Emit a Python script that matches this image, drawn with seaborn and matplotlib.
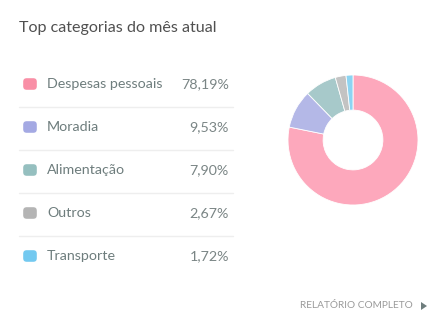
import matplotlib
matplotlib.use("Agg")
import matplotlib.pyplot as plt
from matplotlib.patches import FancyBboxPatch, Polygon
import seaborn as sns

title = "Top categorias do mês atual"
categories = ["Despesas pessoais", "Moradia", "Alimentação", "Outros", "Transporte"]
values = [78.19, 9.53, 7.90, 2.67, 1.72]
labels = ["78,19%", "9,53%", "7,90%", "2,67%", "1,72%"]
marker_colors = ["#F98FA6", "#A4A9E3", "#95BFBF", "#B4B4B4", "#73C9F0"]
slice_colors = ["#FDA8BC", "#B4B8E7", "#A7C9CA", "#C3C3C3", "#8CD4F2"]
footer = "RELATÓRIO COMPLETO"

sns.set_theme(style="white")
plt.rcParams["font.family"] = ["Lato", "DejaVu Sans"]

W, H = 448, 334
fig = plt.figure(figsize=(W / 100, H / 100), dpi=100)
fig.patch.set_facecolor("white")

# overlay axes in pixel coordinates
ov = fig.add_axes([0, 0, 1, 1])
ov.set_xlim(0, W)
ov.set_ylim(H, 0)
ov.axis("off")

ov.text(19, 28, title, fontsize=11.6, color="#505050", va="center", ha="left")

row_y0, row_step = 84, 43
for i, (cat, lab, col) in enumerate(zip(categories, labels, marker_colors)):
    y = row_y0 + i * row_step
    ov.add_patch(FancyBboxPatch((25, y - 4), 10, 8, boxstyle="round,pad=1.8,rounding_size=3.5",
                                facecolor=col, edgecolor="none"))
    ov.text(47, y, cat, fontsize=10.3, color="#6E7D7D", va="center", ha="left")
    ov.text(229, y, lab, fontsize=10.3, color="#7A8585", va="center", ha="right")
    if i < len(categories) - 1:
        ov.plot([19, 233], [y + 23, y + 23], color="#EEEEEE", lw=1)

ov.text(413, 306, footer, fontsize=7.3, color="#9A9A9A", va="center", ha="right")
ov.add_patch(Polygon([[421, 302], [421, 310], [427, 306]], closed=True,
                     facecolor="#6E7D7D", edgecolor="none"))

# donut
cx, cy, r = 353, 140, 65
ax = fig.add_axes([(cx - r) / W, (H - cy - r) / H, 2 * r / W, 2 * r / H])
ax.pie(values, colors=slice_colors, startangle=90, counterclock=False, radius=1,
       wedgeprops=dict(width=0.54, edgecolor="white", linewidth=0.6))
ax.set_aspect("equal")
ax.set_xlim(-1, 1)
ax.set_ylim(-1, 1)
ax.axis("off")

fig.savefig("out.png", dpi=100, facecolor="white")
